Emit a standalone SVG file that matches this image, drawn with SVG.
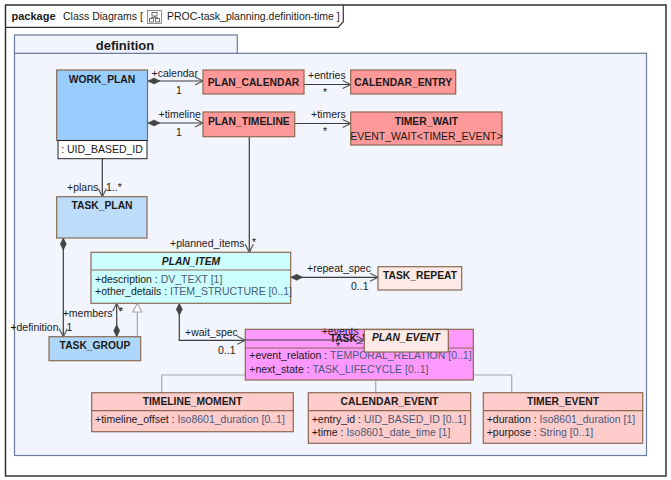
<svg xmlns="http://www.w3.org/2000/svg" width="671" height="480" viewBox="0 0 671 480">
<style>
text{font-family:"Liberation Sans",Arial,sans-serif;fill:#1a1a1a}
.cls{stroke:#8b6a50;stroke-width:1.2}
.nm{font-size:10.3px;font-weight:bold;text-anchor:middle}
.it{font-style:italic}
.at{font-size:10.5px}
.ty{fill:#4a5a78}
.lb{font-size:10.5px}
.cn{fill:none;stroke:#3c3c3c;stroke-width:1.2}
.gen{fill:none;stroke:#a8a8a8;stroke-width:1.2}
</style>
<defs>
<marker id="arr" markerUnits="userSpaceOnUse" markerWidth="10" markerHeight="10" refX="8" refY="4" orient="auto" overflow="visible">
<path d="M0,0 L8,4 L0,8" fill="none" stroke="#555" stroke-width="1.2"/>
</marker>
<marker id="dia" markerUnits="userSpaceOnUse" markerWidth="14" markerHeight="8" refX="0" refY="3" orient="auto" overflow="visible">
<path d="M0,3 L6,0 L12,3 L6,6 Z" fill="#444" stroke="#444" stroke-width="0.6"/>
</marker>
</defs>
<rect x="0" y="0" width="671" height="480" fill="#fff"/>
<!-- outer frame -->
<rect x="5.5" y="5" width="660.5" height="471" fill="#fff" stroke="#333" stroke-width="1.5"/>
<path d="M5.5,27.3 H338 L343.3,21.7 V5" fill="none" stroke="#333" stroke-width="1.2"/>
<text x="11.5" y="20" style="font-size:11px;font-weight:bold">package</text>
<text x="63" y="20" style="font-size:10.5px">Class Diagrams [</text>
<g id="icon">
<rect x="147.5" y="10.5" width="14" height="13" fill="#fff" stroke="#777" stroke-width="0.8"/>
<rect x="152" y="12.5" width="5" height="3.5" fill="#fff" stroke="#555" stroke-width="0.8"/>
<rect x="149.5" y="18.5" width="4" height="3.5" fill="#fff" stroke="#555" stroke-width="0.8"/>
<rect x="155.5" y="18.5" width="4" height="3.5" fill="#fff" stroke="#555" stroke-width="0.8"/>
<path d="M154.5,16 V17.5 M151.5,17.5 H157.5 M151.5,17.5 V18.5 M157.5,17.5 V18.5" stroke="#555" stroke-width="0.8" fill="none"/>
</g>
<text x="167" y="20" style="font-size:10.5px">PROC-task_planning.definition-time ]</text>
<!-- definition package -->
<g id="definition">
<rect x="14.5" y="53.3" width="632" height="402.2" fill="#f2f5fd" stroke="#6a7aa0" stroke-width="1.2"/>
<rect x="14.5" y="35" width="222.8" height="18.3" fill="#f2f5fd" stroke="#6a7aa0" stroke-width="1.2"/>
<text x="125" y="50" style="font-size:13px;font-weight:bold;text-anchor:middle">definition</text>
</g>
<!-- generalization lines to PLAN_EVENT (behind TASK_WAIT) -->
<g id="connectors">
<path class="gen" d="M161.7,392.7 V375 H511.7 V392.7 M375.7,392.7 V375"/>
<path class="gen" d="M137.3,336.7 V312"/>
<path d="M137.3,303.5 L141.8,312 L132.8,312 Z" fill="#fff" stroke="#a8a8a8" stroke-width="1.2"/>
<path class="cn" d="M148,81 H203" marker-start="url(#dia)" marker-end="url(#arr)"/>
<path class="cn" d="M148,123 H203" marker-start="url(#dia)" marker-end="url(#arr)"/>
<path class="cn" d="M304,84.5 H350.7" marker-end="url(#arr)"/>
<path class="cn" d="M294.7,123.5 H350.7" marker-end="url(#arr)"/>
<path class="cn" d="M249.3,137 V252.3" marker-end="url(#arr)"/>
<path class="cn" d="M102.3,158.7 V196.7" marker-end="url(#arr)"/>
<path class="cn" d="M63.3,238 V336.7" marker-start="url(#dia)" marker-end="url(#arr)"/>
<path class="cn" d="M116.7,336.7 V303.3" marker-start="url(#dia)" marker-end="url(#arr)"/>
<path class="cn" d="M290.7,277.3 H378" marker-start="url(#dia)" marker-end="url(#arr)"/>
<path class="cn" d="M179.3,303.3 V340.3 H245.3" marker-start="url(#dia)" marker-end="url(#arr)"/>
<text class="lb" x="151.5" y="76.5">+calendar</text>
<text class="lb" x="176" y="94">1</text>
<text class="lb" x="158.5" y="118">+timeline</text>
<text class="lb" x="176" y="135.5">1</text>
<text class="lb" x="308" y="79">+entries</text>
<text class="lb" x="323" y="96">*</text>
<text class="lb" x="311" y="118">+timers</text>
<text class="lb" x="323" y="134.5">*</text>
<text class="lb" x="170" y="247">+planned_items</text>
<text class="lb" x="252" y="245.5">*</text>
<text class="lb" x="67" y="190.5">+plans</text>
<text class="lb" x="106" y="190.5">1..*</text>
<text class="lb" x="58.5" y="330.5" style="text-anchor:end">+definition</text>
<text class="lb" x="66.5" y="330.5">1</text>
<text class="lb" x="62.7" y="316.5">+members</text>
<text class="lb" x="119" y="314.5">*</text>
<text class="lb" x="307" y="272">+repeat_spec</text>
<text class="lb" x="351" y="290">0..1</text>
<text class="lb" x="185" y="335.5">+wait_spec</text>
<text class="lb" x="218" y="354">0..1</text>
</g>
<!-- nodes -->
<g id="WORK_PLAN">
<rect class="cls" x="56.7" y="70" width="90.8" height="70.5" fill="#99ccff"/>
<rect x="58" y="140.5" width="89" height="18.2" fill="#fff" stroke="#222" stroke-width="1"/>
<text class="nm" x="102" y="83">WORK_PLAN</text>
<text class="at" x="102" y="153" style="text-anchor:middle">: UID_BASED_ID</text>
</g>
<g id="PLAN_CALENDAR">
<rect class="cls" x="203" y="70" width="101" height="24" fill="#ff9999"/>
<text class="nm" x="253.5" y="86">PLAN_CALENDAR</text>
</g>
<g id="CALENDAR_ENTRY">
<rect class="cls" x="350.7" y="70" width="105" height="24" fill="#ff9999"/>
<text class="nm" x="403.2" y="86">CALENDAR_ENTRY</text>
</g>
<g id="PLAN_TIMELINE">
<rect class="cls" x="203" y="112" width="91.7" height="24.7" fill="#ff9999"/>
<text class="nm" x="248.8" y="125">PLAN_TIMELINE</text>
</g>
<g id="TIMER_WAIT">
<rect class="cls" x="350.7" y="112" width="151.3" height="33" fill="#ff9999"/>
<text class="nm" x="426.4" y="125">TIMER_WAIT</text>
<text class="at" x="426.4" y="140" style="text-anchor:middle">EVENT_WAIT&lt;TIMER_EVENT&gt;</text>
</g>
<g id="TASK_PLAN">
<rect class="cls" x="56.7" y="196.7" width="90.3" height="41.3" fill="#bcdcfa"/>
<text class="nm" x="102" y="209">TASK_PLAN</text>
</g>
<g id="PLAN_ITEM">
<rect class="cls" x="91" y="252.3" width="199.7" height="51" fill="#ccffff"/>
<line class="cls" x1="91" y1="270" x2="290.7" y2="270"/>
<text class="nm it" x="191" y="264.5">PLAN_ITEM</text>
<text class="at" x="95" y="283">+description : <tspan class="ty">DV_TEXT [1]</tspan></text>
<text class="at" x="95" y="294.5">+other_details : <tspan class="ty">ITEM_STRUCTURE [0..1]</tspan></text>
</g>
<g id="TASK_GROUP">
<rect class="cls" x="49" y="336.7" width="91.7" height="24" fill="#add6fa"/>
<text class="nm" x="95" y="349">TASK_GROUP</text>
</g>
<g id="TASK_REPEAT">
<rect class="cls" x="378" y="266.7" width="83.7" height="23.3" fill="#fde9e5"/>
<text class="nm" x="420" y="279">TASK_REPEAT</text>
</g>
<g id="TASK_WAIT">
<rect class="cls" x="245.3" y="329.3" width="228" height="50.7" fill="#ff99ff"/>
<line class="cls" x1="245.3" y1="348" x2="473.3" y2="348"/>
<text class="nm" x="359" y="342">TASK_WAIT</text>
<text class="at" x="249.3" y="359">+event_relation : <tspan class="ty">TEMPORAL_RELATION [0..1]</tspan></text>
<text class="at" x="249.3" y="372.5">+next_state : <tspan class="ty">TASK_LIFECYCLE [0..1]</tspan></text>
</g>
<g id="events">
<path class="cn" d="M245.3,340 H364.3" marker-end="url(#arr)"/>
<text class="lb" x="321.7" y="334.5">+events</text>
<text class="lb" x="336" y="350">*</text>
</g>
<g id="PLAN_EVENT">
<rect class="cls" x="364.3" y="329.5" width="84" height="22.5" fill="#fde9e5"/>
<text class="nm it" x="406" y="340.5">PLAN_EVENT</text>
</g>
<g id="TIMELINE_MOMENT">
<rect class="cls" x="91.7" y="392.7" width="201.6" height="39" fill="#ffcccc"/>
<line class="cls" x1="91.7" y1="410.7" x2="293.3" y2="410.7"/>
<text class="nm" x="192.5" y="404.5">TIMELINE_MOMENT</text>
<text class="at" x="95" y="423">+timeline_offset : <tspan class="ty">Iso8601_duration [0..1]</tspan></text>
</g>
<g id="CALENDAR_EVENT">
<rect class="cls" x="308.3" y="392.7" width="162.4" height="50.6" fill="#ffcccc"/>
<line class="cls" x1="308.3" y1="410.7" x2="470.7" y2="410.7"/>
<text class="nm" x="389.5" y="404.5">CALENDAR_EVENT</text>
<text class="at" x="311.7" y="423">+entry_id : <tspan class="ty">UID_BASED_ID [0..1]</tspan></text>
<text class="at" x="311.7" y="435.5">+time : <tspan class="ty">Iso8601_date_time [1]</tspan></text>
</g>
<g id="TIMER_EVENT">
<rect class="cls" x="483.3" y="392.7" width="159.4" height="50.6" fill="#ffcccc"/>
<line class="cls" x1="483.3" y1="410.7" x2="642.7" y2="410.7"/>
<text class="nm" x="563" y="404.5">TIMER_EVENT</text>
<text class="at" x="486.7" y="423">+duration : <tspan class="ty">Iso8601_duration [1]</tspan></text>
<text class="at" x="486.7" y="435.5">+purpose : <tspan class="ty">String [0..1]</tspan></text>
</g>
</svg>
